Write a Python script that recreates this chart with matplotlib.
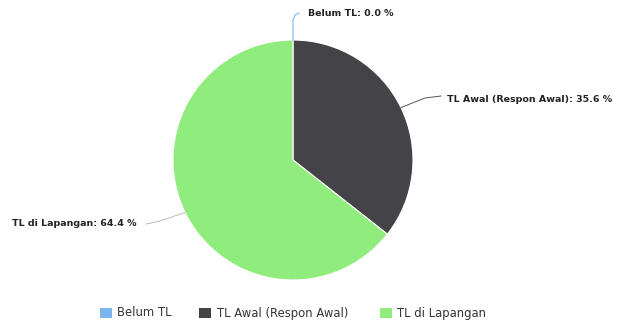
import numpy as np
import matplotlib
matplotlib.use("Agg")
import matplotlib.pyplot as plt
from matplotlib.patches import Rectangle

categories = ["Belum TL", "TL Awal (Respon Awal)", "TL di Lapangan"]
values = [0.0, 35.6, 64.4]
colors = ["#7cb5ec", "#434348", "#90ed7d"]

W, H = 618, 325
fig = plt.figure(figsize=(W / 100, H / 100), dpi=100)
ax = fig.add_axes([0, 0, 1, 1])
ax.axis("off")

cx, cy, r = 293, H - 160, 120
wedges, _ = ax.pie(values, colors=colors, startangle=90, counterclock=False,
                   center=(cx, cy), radius=r,
                   wedgeprops=dict(edgecolor="white", linewidth=0.8))
ax.set_xlim(0, W)
ax.set_ylim(0, H)
ax.set_aspect("equal")

total = sum(values)
label_fs = 6.8
txt_color = "#222222"

# Belum TL (top)
w = wedges[0]
mid = np.deg2rad((w.theta1 + w.theta2) / 2)
ex, ey = cx + r * np.cos(mid), cy + r * np.sin(mid)
ax.plot([ex, ex, ex + 2, ex + 6], [ey, H - 20, H - 15, H - 13],
        color=colors[0], lw=0.8)
ax.text(308, H - 14, f"{categories[0]}: {values[0] / total * 100:.1f} %",
        ha="left", va="center", fontsize=label_fs, fontweight="bold", color=txt_color)

# TL Awal (right)
w = wedges[1]
mid = np.deg2rad((w.theta1 + w.theta2) / 2)
ex, ey = cx + r * np.cos(mid), cy + r * np.sin(mid)
ax.plot([ex, 425, 441], [ey, H - 98, H - 96], color="#555555", lw=0.7)
ax.text(447, H - 100, f"{categories[1]}: {values[1] / total * 100:.1f} %",
        ha="left", va="center", fontsize=label_fs, fontweight="bold", color=txt_color)

# TL di Lapangan (left)
w = wedges[2]
mid = np.deg2rad((w.theta1 + w.theta2) / 2)
ex, ey = cx + r * np.cos(mid), cy + r * np.sin(mid)
ax.plot([ex, 160, 146], [ey, H - 221, H - 224], color="#bbbbbb", lw=0.7)
ax.text(12, H - 224, f"{categories[2]}: {values[2] / total * 100:.1f} %",
        ha="left", va="center", fontsize=label_fs, fontweight="bold", color=txt_color)

# legend
sq_x = [100, 199, 380]
tx_x = [117, 217, 397]
leg_y = H - 313
for sx, tx, cat, c in zip(sq_x, tx_x, categories, colors):
    ax.add_patch(Rectangle((sx, leg_y - 5), 12, 10, facecolor=c, edgecolor="none"))
    ax.text(tx, leg_y, cat, ha="left", va="center", fontsize=8.4, color="#333333")

fig.savefig("out.png", dpi=100, facecolor="white")
